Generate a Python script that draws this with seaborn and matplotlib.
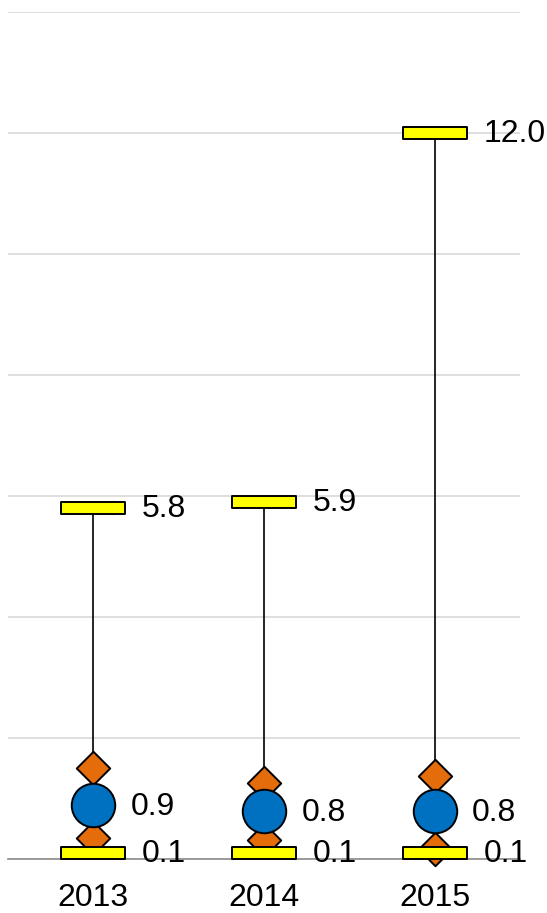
import numpy as np
import pandas as pd
import matplotlib
matplotlib.use("Agg")
import matplotlib.pyplot as plt
from matplotlib.path import Path
import seaborn as sns

years = ["2013", "2014", "2015"]
max_vals = [5.8, 5.9, 12.0]
q3_vals = [1.51, 1.26, 1.37]
median_vals = [0.9, 0.8, 0.8]
q1_vals = [0.34, 0.31, 0.17]
min_vals = [0.1, 0.1, 0.1]

df = pd.DataFrame({
    "year": years,
    "max": max_vals,
    "q3": q3_vals,
    "median": median_vals,
    "q1": q1_vals,
    "min": min_vals,
})

sns.set_theme(style="white")
plt.rcParams["font.family"] = ["Liberation Sans", "DejaVu Sans"]

fig = plt.figure(figsize=(5.47, 9.13), dpi=100)
ax = fig.add_axes([8 / 547, 54 / 913, 512 / 547, (859 - 12) / 913])

pos = np.arange(len(years))

# whiskers from min to max
ax.vlines(pos, df["min"], df["max"], color="black", linewidth=1.2, zorder=2)

# wide flat bar marker for the extremes
bar_marker = Path([(-1, -0.2), (1, -0.2), (1, 0.2), (-1, 0.2), (-1, -0.2)],
                  [Path.MOVETO, Path.LINETO, Path.LINETO, Path.LINETO, Path.CLOSEPOLY])

common = dict(ax=ax, x="year", legend=False, edgecolor="black", linewidth=1.4, clip_on=False)

for col in ["q1", "q3"]:
    sns.scatterplot(data=df, y=col, marker="D", s=290, color="#E46C0A", zorder=3, **common)

sns.scatterplot(data=df, y="median", marker="o", s=980, color="#0070C0", zorder=4, **common)

for col in ["min", "max"]:
    sns.scatterplot(data=df, y=col, marker=bar_marker, s=46 ** 2, color="#FFFF00", zorder=5, **common)

label_style = dict(textcoords="offset points", va="center", ha="left", fontsize=23, color="black")
for i, row in df.iterrows():
    ax.annotate(f"{row['max']:.1f}", (i, row["max"]), xytext=(35, -1), **label_style)
    ax.annotate(f"{row['min']:.1f}", (i, row["min"]), xytext=(35, -1), **label_style)
    ax.annotate(f"{row['median']:.1f}", (i, row["median"]), xytext=(27, -2), **label_style)

ax.set_xlim(-0.5, 2.5)
ax.set_ylim(0, 14)
ax.set_yticks(np.arange(0, 15, 2))
ax.set_yticklabels([])
ax.yaxis.grid(True, color="#d9d9d9", linewidth=1.2)
ax.set_axisbelow(True)
for name in ["left", "right", "top"]:
    ax.spines[name].set_visible(False)
ax.spines["bottom"].set_color("#8c8c8c")
ax.spines["bottom"].set_linewidth(1.2)
ax.spines["bottom"].set_zorder(1)
ax.tick_params(axis="x", length=0, pad=17, labelsize=23, labelcolor="black")
ax.tick_params(axis="y", length=0)
ax.set_xlabel("")
ax.set_ylabel("")

fig.savefig("out.png", dpi=100)
